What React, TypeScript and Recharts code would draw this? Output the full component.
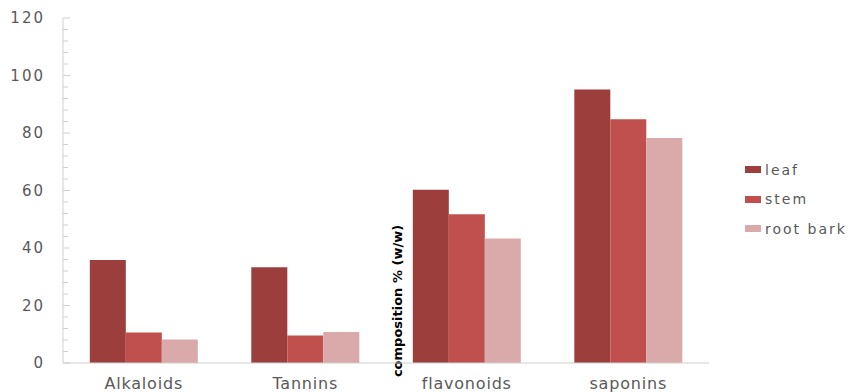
import React from 'react';
import { BarChart, Bar, XAxis, YAxis, Legend } from 'recharts';

const categories = ['Alkaloids', 'Tannins', 'flavonoids', 'saponins'];
const leaf = [35.8, 33.3, 60.3, 95.1];
const stem = [10.6, 9.6, 51.7, 84.8];
const rootBark = [8.2, 10.8, 43.3, 78.3];
const yTicks = [0, 4, 8, 12, 16, 20, 24, 28, 32, 36, 40, 44, 48, 52, 56, 60, 64, 68, 72, 76, 80, 84, 88, 92, 96, 100, 104, 108, 112, 116, 120];
const yLabelEvery = 20;
const seriesNames = ['leaf', 'stem', 'root bark'];
const seriesColors = ['#9C3E3C', '#C0504D', '#DAAAAA'];
const yAxisTitle = 'composition % (w/w)';

const data = categories.map((c, i) => ({
  category: c,
  leaf: leaf[i],
  stem: stem[i],
  rootBark: rootBark[i],
}));

const FONT = '"DejaVu Sans", sans-serif';
const TEXT = '#595959';
const AXIS = '#cfcfcf';
const LEGEND_W = 104;

const YTick = (props: any) => {
  const { x, y, payload } = props;
  const major = payload.value % yLabelEvery === 0;
  return (
    <g>
      <line x1={x} x2={x + (major ? 7 : 5)} y1={y} y2={y} stroke={AXIS} strokeWidth={1} />
      {major && (
        <text x={x - 18} y={y} dy={5} textAnchor="end" fill={TEXT} fontFamily={FONT} fontSize={15} letterSpacing={2}>
          {payload.value}
        </text>
      )}
    </g>
  );
};

const XTick = (props: any) => {
  const { x, y, payload } = props;
  return (
    <text x={x} y={y} dy={26} textAnchor="middle" fill={TEXT} fontFamily={FONT} fontSize={16} letterSpacing={0.8}>
      {payload.value}
    </text>
  );
};

const LegendContent = () => (
  <div style={{ fontFamily: FONT, fontSize: 14, color: TEXT, letterSpacing: 2 }}>
    {seriesNames.map((n, i) => (
      <div key={n} style={{ display: 'flex', alignItems: 'center', height: 29.5 }}>
        <div style={{ width: 16, height: 7, background: seriesColors[i], marginRight: 4 }} />
        <span style={{ lineHeight: '14px' }}>{n}</span>
      </div>
    ))}
  </div>
);

export default function App() {
  return (
    <div style={{ position: 'absolute', left: 0, top: 0, width: 849, height: 392, background: '#fff' }}>
      <BarChart
        width={849}
        height={392}
        data={data}
        margin={{ top: 18, right: 140 - LEGEND_W, left: 0, bottom: 0 }}
        barCategoryGap="16.6%"
        barGap={0}
      >
        <XAxis
          dataKey="category"
          height={29}
          tickLine={false}
          axisLine={{ stroke: AXIS }}
          tick={<XTick />}
          tickSize={0}
          tickMargin={0}
          interval={0}
        />
        <YAxis
          width={63}
          domain={[0, 120]}
          ticks={yTicks}
          interval={0}
          tickLine={false}
          tickSize={0}
          tickMargin={0}
          axisLine={{ stroke: AXIS }}
          tick={<YTick />}
        />
        <Legend
          layout="vertical"
          align="right"
          verticalAlign="top"
          content={<LegendContent />}
          wrapperStyle={{ left: 745, top: 155, width: LEGEND_W }}
        />
        <Bar dataKey="leaf" name="leaf" fill={seriesColors[0]} isAnimationActive={false} />
        <Bar dataKey="stem" name="stem" fill={seriesColors[1]} isAnimationActive={false} />
        <Bar dataKey="rootBark" name="root bark" fill={seriesColors[2]} isAnimationActive={false} />
        <text
          x={0}
          y={0}
          transform="translate(402,301) rotate(-90)"
          textAnchor="middle"
          fill="#000"
          fontFamily={FONT}
          fontWeight="bold"
          fontSize={13}
        >
          {yAxisTitle}
        </text>
      </BarChart>
    </div>
  );
}
